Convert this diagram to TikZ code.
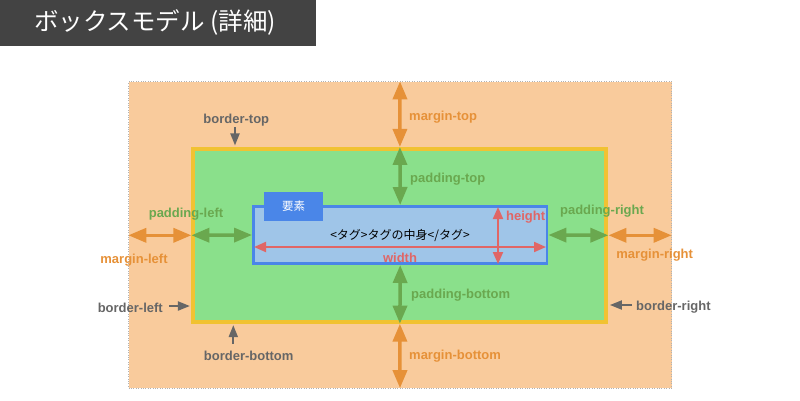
\documentclass[tikz,border=0pt]{standalone}
\usepackage{fontspec}
\setmainfont{Liberation Sans}
\newfontfamily\jp{Noto Sans CJK JP}
\usetikzlibrary{arrows.meta,calc}
\definecolor{titlebg}{HTML}{434343}
\definecolor{peach}{HTML}{F9CB9C}
\definecolor{greenfill}{HTML}{8AE08B}
\definecolor{yellowline}{HTML}{F1C232}
\definecolor{bluefill}{HTML}{9FC5E8}
\definecolor{blueline}{HTML}{4A86E8}
\definecolor{redc}{HTML}{E06666}
\definecolor{orangec}{HTML}{E69138}
\definecolor{greenc}{HTML}{6AA84F}
\definecolor{grayc}{HTML}{666666}
\tikzset{
  marginbox/.style={draw=gray!60, dotted, fill=peach, minimum width=543, minimum height=306.5, inner sep=0},
  borderbox/.style={draw=yellowline, line width=4pt, fill=greenfill, minimum width=413, minimum height=172.7, inner sep=0},
  contentbox/.style={draw=blueline, line width=2.6pt, fill=bluefill, minimum width=293.7, minimum height=57.4, inner sep=0},
  elembox/.style={fill=blueline, minimum width=59, minimum height=29, inner sep=0, text=white, font=\jp\fontsize{11.5}{13}\selectfont},
  bigarrow/.style={line width=3.5pt, {Triangle[length=18pt,width=14pt]}-{Triangle[length=18pt,width=14pt]}},
  marginarrow/.style={bigarrow, draw=orangec, color=orangec},
  paddingarrow/.style={bigarrow, draw=greenc, color=greenc},
  sizearrow/.style={line width=2pt, draw=redc, color=redc, {Triangle[length=12pt,width=10pt]}-{Triangle[length=12pt,width=10pt]}},
  grayarrow/.style={line width=2pt, draw=grayc, color=grayc, -{Triangle[length=12pt,width=9pt]}},
  lbl/.style={font=\bfseries\fontsize{13}{15}\selectfont, inner sep=0},
  marginlbl/.style={lbl, text=orangec},
  paddinglbl/.style={lbl, text=greenc},
  borderlbl/.style={lbl, text=grayc},
  sizelbl/.style={lbl, text=redc},
}
\begin{document}
\begin{tikzpicture}[x=1pt,y=-1pt]
\useasboundingbox (0,0) rectangle (800,400);
% title
\node[fill=titlebg, minimum width=316, minimum height=46, inner sep=0, anchor=north west] (titlebar) at (0,0) {};
\node[anchor=west, inner sep=0, text=white, font=\jp\fontsize{24.5}{28}\selectfont] (title) at (34,22.5) {ボックスモデル (詳細)};
% boxes
\node[marginbox] (mbox) at (400,234.75) {};
\node[borderbox] (bbox) at (399.9,235.3) {};
\node[contentbox] (cbox) at (400.2,235) {};
\node[elembox] (elem) at (293.7,206.2) {要素};
\node[font=\jp\fontsize{12}{14}\selectfont, inner sep=0] (ctext) at (400,235.5) {<タグ>タグの中身</タグ>};
% margin / padding arrows
\draw[marginarrow] (mbox.north) -- (bbox.north);
\draw[paddingarrow] (bbox.north) -- (cbox.north);
\draw[paddingarrow] (cbox.south) -- (bbox.south);
\draw[marginarrow] (bbox.south) -- (mbox.south);
\draw[marginarrow] (mbox.west |- bbox.west) -- (bbox.west);
\draw[paddingarrow] (bbox.west) -- (cbox.west);
\draw[paddingarrow] (cbox.east) -- (bbox.east);
\draw[marginarrow] (bbox.east) -- (mbox.east |- bbox.east);
% width / height
\coordinate (wl) at (254,247);
\coordinate (wr) at (546,247);
\coordinate (ht) at (498,207);
\coordinate (hb) at (498,264);
\draw[sizearrow] (wl) -- (wr);
\draw[sizearrow] (ht) -- (hb);
% border arrows
\coordinate (btstart) at (235,127);
\coordinate (bbstart) at (233.3,344);
\coordinate (blstart) at (169,306);
\coordinate (brstart) at (632,305);
\draw[grayarrow, shorten >=1.5pt] (btstart) -- (btstart |- bbox.north);
\draw[grayarrow, shorten >=1.5pt] (bbstart) -- (bbstart |- bbox.south);
\draw[grayarrow, shorten >=1.5pt] (blstart) -- (blstart -| bbox.west);
\draw[grayarrow, shorten >=1.5pt] (brstart) -- (brstart -| bbox.east);
% labels
\node[marginlbl, anchor=west] (lmt) at (409,117) {margin-top};
\node[paddinglbl, anchor=west] (lpt) at (410,179.5) {padding-top};
\node[paddinglbl, anchor=west] (lpb) at (411,295.5) {padding-bottom};
\node[marginlbl, anchor=west] (lmb) at (409,356.5) {margin-bottom};
\node[paddinglbl] (lpl) at (186,214) {padding-left};
\node[marginlbl] (lml) at (134,260.5) {margin-left};
\node[paddinglbl] (lpr) at (602,211) {padding-right};
\node[marginlbl] (lmr) at (654.7,255.5) {margin-right};
\node[borderlbl] (lbt) at (236.3,120) {border-top};
\node[borderlbl] (lbb) at (248.7,355.5) {border-bottom};
\node[borderlbl, anchor=east] (lbl) at (163,307.5) {border-left};
\node[borderlbl, anchor=west] (lbr) at (636,307) {border-right};
\node[sizelbl] (lw) at (400,258) {width};
\node[sizelbl, anchor=west] (lh) at (506,217.5) {height};
\end{tikzpicture}
\end{document}
